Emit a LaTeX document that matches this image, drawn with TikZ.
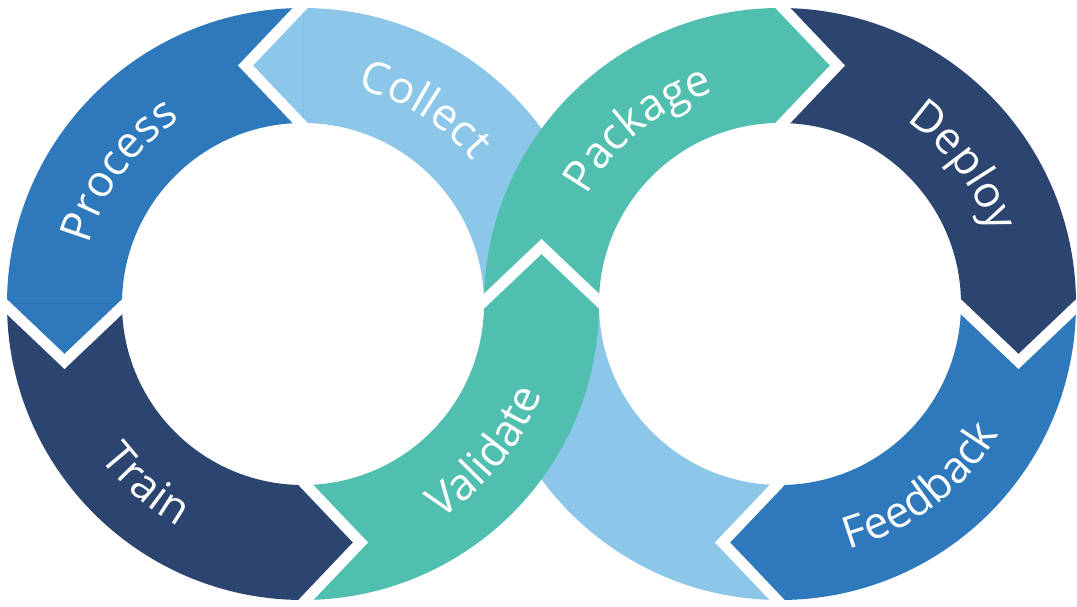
\documentclass[tikz,border=0pt]{standalone}
\usepackage{fontspec}
\setmainfont{Open Sans}
\usetikzlibrary{calc,decorations.text}
\definecolor{cBlue}{HTML}{2E78BC}
\definecolor{cNavy}{HTML}{2B4570}
\definecolor{cLight}{HTML}{8CC7E9}
\definecolor{cTeal}{HTML}{51BFB0}
\newcommand\lblfont{\fontsize{44}{52}\selectfont}
% annular sector: center, start angle, end angle, colour
\newcommand\ringsector[4]{\fill[#4] ($(#1)+(#2:296pt)$) arc[start angle=#2, end angle=#3, radius=296pt] -- ($(#1)+(#3:181pt)$) arc[start angle=#3, end angle=#2, radius=181pt] -- cycle;}
% arrow head: center, boundary angle, direction (+1/-1), colour
\newcommand\ringhead[4]{\fill[#4, shift={(#1)}, rotate=#2] (181,0) -- (238.5,#3*57.5) -- (296,0) -- cycle;}
% white chevron gap: center, boundary angle, direction
\newcommand\ringgap[3]{\fill[white, shift={(#1)}, rotate=#2] (178,7.5) -- (238.5,#3*57.5+7.5) -- (299,7.5) -- (299,-7.5) -- (238.5,#3*57.5-7.5) -- (178,-7.5) -- cycle;}
% labels: center, middle angle, text
\newcommand\outlbl[3]{\path[decorate, decoration={text along path, text align=center, text color=white, text={|\lblfont|#3}}] ($(#1)+(#2+55:222pt)$) arc[start angle=#2+55, end angle=#2-55, radius=222pt];}
\newcommand\inlbl[3]{\path[decorate, decoration={text along path, text align=center, text color=white, text={|\lblfont|#3}}] ($(#1)+(#2-55:255pt)$) arc[start angle=#2-55, end angle=#2+55, radius=255pt];}
\begin{document}
\begin{tikzpicture}[x=1pt,y=1pt]
\useasboundingbox (0,0) rectangle (1077,607);
\coordinate (L) at (303,303);
\coordinate (R) at (780,303);
% light blue (Collect) bodies
\ringsector{L}{0}{90}{cLight}
\ringsector{R}{180}{270}{cLight}
% other bodies
\ringsector{L}{90}{180}{cBlue}
\ringsector{L}{180}{270}{cNavy}
\ringsector{R}{0}{90}{cNavy}
\ringsector{R}{-90}{0}{cBlue}
\ringsector{L}{270}{360}{cTeal}
\ringsector{R}{90}{180}{cTeal}
% heads
\ringhead{L}{90}{1}{cLight}
\ringhead{L}{180}{1}{cBlue}
\ringhead{L}{270}{1}{cNavy}
\ringhead{L}{0}{1}{cTeal}
\ringhead{R}{90}{-1}{cTeal}
\ringhead{R}{0}{-1}{cNavy}
\ringhead{R}{270}{-1}{cBlue}
% gaps
\ringgap{L}{90}{1}
\ringgap{L}{180}{1}
\ringgap{L}{270}{1}
\ringgap{L}{0}{1}
\ringgap{R}{90}{-1}
\ringgap{R}{0}{-1}
\ringgap{R}{270}{-1}
% labels
\outlbl{L}{144}{Process}
\outlbl{L}{58}{Collect}
\outlbl{R}{129}{Package}
\outlbl{R}{37}{Deploy}
\inlbl{L}{229}{Train}
\inlbl{L}{321}{Validate}
\inlbl{R}{307.5}{Feedback}
\end{tikzpicture}
\end{document}
